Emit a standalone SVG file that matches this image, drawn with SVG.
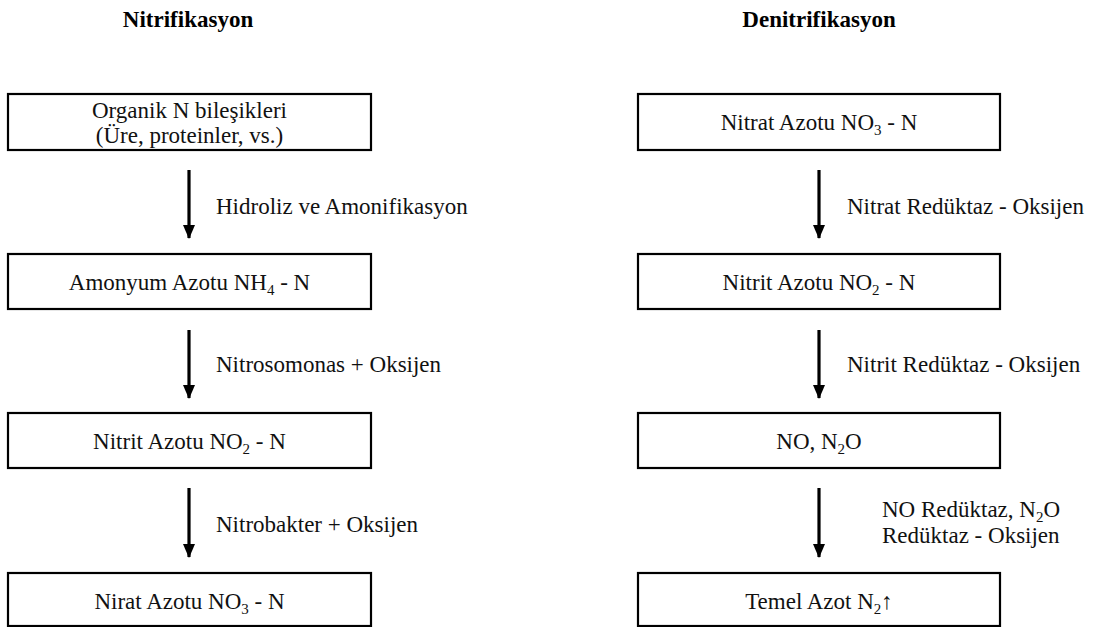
<svg xmlns="http://www.w3.org/2000/svg" width="1094" height="627" viewBox="0 0 1094 627">
<style>
.box{fill:#fff;stroke:#000;stroke-width:2.2}
text{font-family:'Liberation Serif','Times New Roman',Tinos,'Nimbus Roman','DejaVu Serif',serif}
.t{font-size:23px;fill:#111}
.c{text-anchor:middle}
.h{font-size:23px;font-weight:bold;fill:#000;text-anchor:middle}
.sub{font-size:15px}
.ar{stroke:#000;stroke-width:3.2;fill:none}
</style>
<defs>
<marker id="ah" markerWidth="14" markerHeight="12" refX="13" refY="6" orient="auto" markerUnits="userSpaceOnUse" viewBox="0 0 14 12">
<path d="M0,0 L14,6 L0,12 Z" fill="#000"/>
</marker>
</defs>
<rect width="1094" height="627" fill="#fff"/>
<text class="h" x="188" y="27">Nitrifikasyon</text>
<text class="h" x="819" y="27">Denitrifikasyon</text>

<g id="n1"><rect class="box" x="8" y="94" width="363" height="56"/>
<text class="t c" x="189.5" y="118">Organik N bileşikleri</text>
<text class="t c" x="189.5" y="143">(Üre, proteinler, vs.)</text></g>
<g id="n2"><rect class="box" x="8" y="254" width="363" height="55"/>
<text class="t c" x="189.5" y="290">Amonyum Azotu NH<tspan class="sub" dy="5">4</tspan><tspan dy="-5"> - N</tspan></text></g>
<g id="n3"><rect class="box" x="8" y="413" width="363" height="55"/>
<text class="t c" x="189.5" y="449">Nitrit Azotu NO<tspan class="sub" dy="5">2</tspan><tspan dy="-5"> - N</tspan></text></g>
<g id="n4"><rect class="box" x="8" y="573" width="363" height="53"/>
<text class="t c" x="189.5" y="609">Nirat Azotu NO<tspan class="sub" dy="5">3</tspan><tspan dy="-5"> - N</tspan></text></g>

<g id="d1"><rect class="box" x="638" y="94" width="362" height="56"/>
<text class="t c" x="819" y="130">Nitrat Azotu NO<tspan class="sub" dy="5">3</tspan><tspan dy="-5"> - N</tspan></text></g>
<g id="d2"><rect class="box" x="638" y="254" width="362" height="55"/>
<text class="t c" x="819" y="290">Nitrit Azotu NO<tspan class="sub" dy="5">2</tspan><tspan dy="-5"> - N</tspan></text></g>
<g id="d3"><rect class="box" x="638" y="413" width="362" height="55"/>
<text class="t c" x="819" y="449">NO, N<tspan class="sub" dy="5">2</tspan><tspan dy="-5">O</tspan></text></g>
<g id="d4"><rect class="box" x="638" y="573" width="362" height="53"/>
<text class="t c" x="819" y="609">Temel Azot N<tspan class="sub" dy="5">2</tspan><tspan dy="-5">↑</tspan></text></g>

<g id="connectors">
<line class="ar" x1="189" y1="170" x2="189" y2="238" marker-end="url(#ah)"/>
<line class="ar" x1="189" y1="330" x2="189" y2="398" marker-end="url(#ah)"/>
<line class="ar" x1="189" y1="488" x2="189" y2="557" marker-end="url(#ah)"/>
<line class="ar" x1="819" y1="170" x2="819" y2="238" marker-end="url(#ah)"/>
<line class="ar" x1="819" y1="330" x2="819" y2="398" marker-end="url(#ah)"/>
<line class="ar" x1="819" y1="488" x2="819" y2="557" marker-end="url(#ah)"/>
<text class="t" x="216" y="214">Hidroliz ve Amonifikasyon</text>
<text class="t" x="216" y="372">Nitrosomonas + Oksijen</text>
<text class="t" x="216" y="532">Nitrobakter + Oksijen</text>
<text class="t" x="847" y="214">Nitrat Redüktaz - Oksijen</text>
<text class="t" x="847" y="372">Nitrit Redüktaz - Oksijen</text>
<text class="t" x="882" y="517">NO Redüktaz, N<tspan class="sub" dy="5">2</tspan><tspan dy="-5">O</tspan></text>
<text class="t" x="882" y="543">Redüktaz - Oksijen</text>
</g>
</svg>
